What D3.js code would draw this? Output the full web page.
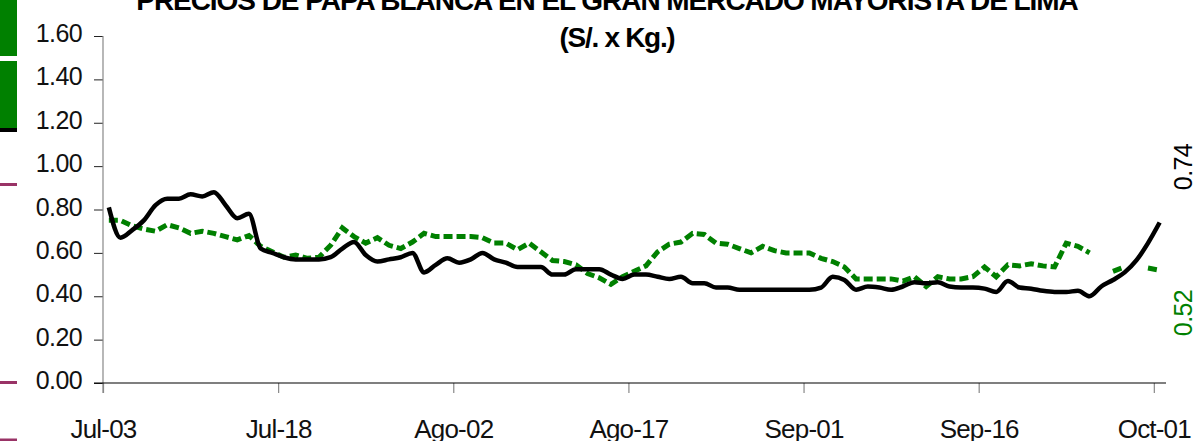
<!DOCTYPE html>
<html>
<head>
<meta charset="utf-8">
<script src="https://cdn.jsdelivr.net/npm/d3@7"></script>
<style>
  body { margin: 0; background: #fff; }
  svg { display: block; font-family: "Liberation Sans", Arial, sans-serif; }
</style>
</head>
<body>
<svg id="chart" width="1201" height="441"></svg>
<script>
// precios diarios (S/. x Kg.), 03 jul - 01 oct
var precioActual = [
  0.81, 0.67, 0.705, 0.75, 0.82, 0.85, 0.85, 0.87, 0.86, 0.88,
  0.82, 0.76, 0.78, 0.62, 0.60, 0.58, 0.57, 0.57, 0.57, 0.58,
  0.62, 0.65, 0.59, 0.56, 0.57, 0.58, 0.60, 0.51, 0.545, 0.575,
  0.555, 0.57, 0.60, 0.57, 0.555, 0.535, 0.535, 0.535, 0.50, 0.50,
  0.525, 0.525, 0.525, 0.50, 0.48, 0.50, 0.50, 0.49, 0.48, 0.49,
  0.46, 0.46, 0.44, 0.44, 0.43, 0.43, 0.43, 0.43, 0.43, 0.43,
  0.43, 0.44, 0.49, 0.475, 0.43, 0.445, 0.44, 0.43, 0.445, 0.465,
  0.46, 0.465, 0.445, 0.44, 0.44, 0.435, 0.42, 0.47, 0.44, 0.435,
  0.425, 0.42, 0.42, 0.425, 0.40, 0.445, 0.475, 0.51, 0.565, 0.645,
  0.74
];
var precioAnterior = [
  0.75, 0.75, 0.725, 0.71, 0.70, 0.73, 0.715, 0.69, 0.70, 0.69,
  0.675, 0.66, 0.68, 0.63, 0.605, 0.58, 0.59, 0.575, 0.58, 0.635,
  0.715, 0.675, 0.645, 0.67, 0.635, 0.62, 0.65, 0.69, 0.675, 0.675,
  0.675, 0.675, 0.67, 0.645, 0.645, 0.615, 0.645, 0.605, 0.565, 0.56,
  0.545, 0.505, 0.485, 0.455, 0.49, 0.515, 0.54, 0.605, 0.64, 0.65,
  0.69, 0.685, 0.645, 0.64, 0.62, 0.60, 0.63, 0.61, 0.60, 0.60,
  0.60, 0.575, 0.56, 0.535, 0.48, 0.48, 0.48, 0.48, 0.47, 0.49,
  0.445, 0.49, 0.48, 0.48, 0.49, 0.535, 0.49, 0.545, 0.54, 0.55,
  0.54, 0.535, 0.645, 0.63, 0.60, null, 0.515, 0.535, null, 0.53,
  0.52
];
var yTicks = [0, 0.2, 0.4, 0.6, 0.8, 1.0, 1.2, 1.4, 1.6];
var meses = ["Ene","Feb","Mar","Abr","May","Jun","Jul","Ago","Sep","Oct","Nov","Dic"];

var inicio = new Date(2010, 6, 3),
    fin = new Date(2010, 9, 2);
var dias = d3.timeDay.range(inicio, fin);
var xTicks = dias.filter(function(d, i) { return i % 15 === 0; });

var svg = d3.select("#chart");

var x = d3.scaleTime().domain([inicio, fin]).range([103, 1165.5]);
var y = d3.scaleLinear().domain([0, 1.6]).range([383, 36]);

function mitad(d) { return d3.timeHour.offset(d, 12); }
function fmtFecha(d) {
  return meses[d.getMonth()] + "-" + d3.format("02")(d.getDate());
}

// decoracion de la izquierda
svg.append("rect").attr("x", 0).attr("y", 0).attr("width", 17).attr("height", 56).attr("fill", "#008000");
svg.append("rect").attr("x", 0).attr("y", 61).attr("width", 17).attr("height", 67).attr("fill", "#008000");
svg.append("rect").attr("x", 0).attr("y", 128).attr("width", 17).attr("height", 4).attr("fill", "#000");
[184.5, 382.5, 440].forEach(function(v) {
  svg.append("rect").attr("x", 0).attr("y", v - 1.5).attr("width", 17).attr("height", 3).attr("fill", "#993366");
});

// titulo
svg.append("text")
  .attr("x", 607).attr("y", 10)
  .attr("text-anchor", "middle")
  .attr("font-size", 28).attr("font-weight", "bold")
  .attr("letter-spacing", "-1.05px")
  .text("PRECIOS DE PAPA BLANCA EN EL GRAN MERCADO MAYORISTA DE LIMA");
svg.append("text")
  .attr("x", 617).attr("y", 47)
  .attr("text-anchor", "middle")
  .attr("font-size", 28).attr("font-weight", "bold")
  .attr("letter-spacing", "-1.3px")
  .text("(S/. x Kg.)");

// eje y
var gy = svg.append("g")
  .attr("transform", "translate(103,0)")
  .call(d3.axisLeft(y).tickValues(yTicks).tickSize(9).tickPadding(12).tickFormat(d3.format(".2f")));
gy.select(".domain").remove();
gy.selectAll(".tick line").attr("stroke", "#222");
gy.selectAll(".tick text")
  .attr("font-size", 25).attr("fill", "#111")
  .attr("letter-spacing", "-0.6px")
  .attr("dy", "0.22em");
svg.append("line")
  .attr("x1", 103).attr("x2", 103).attr("y1", 36).attr("y2", 393)
  .attr("stroke", "#888").attr("stroke-width", 1.2);

// eje x
var gx = svg.append("g")
  .attr("transform", "translate(0,383)")
  .call(d3.axisBottom(x).tickValues(xTicks).tickSize(10).tickPadding(27).tickFormat(fmtFecha));
gx.select(".domain").remove();
gx.selectAll(".tick line").attr("stroke", "#888").attr("stroke-width", 1.2);
gx.selectAll(".tick text")
  .attr("font-size", 26).attr("fill", "#111")
  .attr("letter-spacing", "-0.8px");
svg.append("line")
  .attr("x1", 94).attr("x2", 1166).attr("y1", 383).attr("y2", 383)
  .attr("stroke", "#000").attr("stroke-width", 1.2);

// series
var lineaAnterior = d3.line()
  .defined(function(d) { return d != null; })
  .x(function(d, i) { return x(mitad(dias[i])); })
  .y(function(d) { return y(d); });

var lineaActual = d3.line()
  .curve(d3.curveMonotoneX)
  .x(function(d, i) { return x(mitad(dias[i])); })
  .y(function(d) { return y(d); });

svg.append("path")
  .datum(precioAnterior)
  .attr("d", lineaAnterior)
  .attr("fill", "none")
  .attr("stroke", "#008000")
  .attr("stroke-width", 5)
  .attr("stroke-dasharray", "9,4");

svg.append("path")
  .datum(precioActual)
  .attr("d", lineaActual)
  .attr("fill", "none")
  .attr("stroke", "#000")
  .attr("stroke-width", 4.5)
  .attr("stroke-linejoin", "round");

// ultimos valores
function etiqueta(valor, cy, color) {
  svg.append("text")
    .attr("transform", "translate(1192," + cy + ") rotate(-90)")
    .attr("text-anchor", "middle")
    .attr("font-size", 25)
    .attr("letter-spacing", "-0.6px")
    .attr("fill", color)
    .text(d3.format(".2f")(valor));
}
etiqueta(precioActual[precioActual.length - 1], 167, "#000");
etiqueta(precioAnterior[precioAnterior.length - 1], 313, "#008000");
</script>
</body>
</html>
